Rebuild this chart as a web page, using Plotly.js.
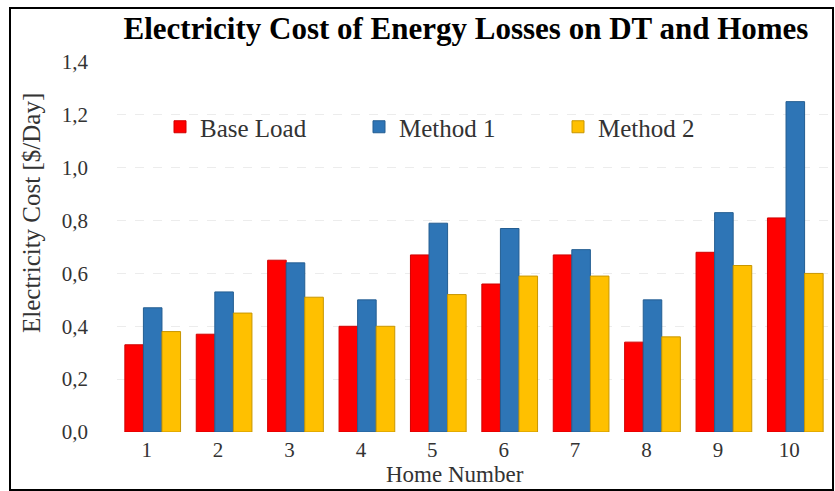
<!DOCTYPE html>
<html>
<head>
<meta charset="utf-8">
<script src="https://cdn.plot.ly/plotly-3.0.1.min.js"></script>
<style>html,body{margin:0;padding:0;background:#fff;}#chart{width:835px;height:491px;}</style>
</head>
<body>
<div id="chart"></div>
<script>
const homes = ['1','2','3','4','5','6','7','8','9','10'];
const baseLoad = [0.33, 0.37, 0.65, 0.40, 0.67, 0.56, 0.67, 0.34, 0.68, 0.81];
const method1  = [0.47, 0.53, 0.64, 0.50, 0.79, 0.77, 0.69, 0.50, 0.83, 1.25];
const method2  = [0.38, 0.45, 0.51, 0.40, 0.52, 0.59, 0.59, 0.36, 0.63, 0.60];
const seriesNames = ['Base Load', 'Method 1', 'Method 2'];
const tickVals = [0, 0.2, 0.4, 0.6, 0.8, 1.0, 1.2, 1.4];

const colors = ['#FF0000', '#2E75B6', '#FFC000'];
const lineColors = ['#D00000', '#245E92', '#C89600'];
const serif = '"Liberation Serif", "Times New Roman", serif';

const traces = [baseLoad, method1, method2].map((vals, i) => ({
  type: 'bar',
  name: seriesNames[i],
  x: homes,
  y: vals,
  marker: {color: colors[i], line: {color: lineColors[i], width: 1}},
  hoverinfo: 'skip'
}));

const L = 117, R = 4, T = 62, B = 59, W = 835, H = 491;
const pw = W - L - R, ph = H - T - B;
const px = v => (v - L) / pw;
const py = v => (H - B - v) / ph;

const layout = {
  width: W, height: H,
  margin: {l: L, r: R, t: T, b: B, pad: 0},
  paper_bgcolor: '#ffffff',
  plot_bgcolor: '#ffffff',
  separators: ',.',
  barmode: 'group',
  bargap: 0.22,
  bargroupgap: 0,
  showlegend: true,
  font: {family: serif, color: '#333333', size: 20},
  title: {
    text: '<b>Electricity Cost of Energy Losses on DT and Homes</b>',
    font: {family: serif, size: 31, color: '#000000'},
    x: px(466), xref: 'paper', xanchor: 'center',
    y: 1 - 28 / H, yanchor: 'middle'
  },
  xaxis: {
    type: 'category',
    showgrid: false,
    zeroline: false,
    showline: false,
    ticks: '',
    tickfont: {family: serif, size: 21, color: '#333333'},
    ticklabelstandoff: 3,
    ticklabelshift: -6
  },
  yaxis: {
    range: [0, 1.4],
    tickvals: tickVals,
    tickformat: '.1f',
    showgrid: true,
    gridcolor: '#ececec',
    griddash: 'dash',
    zeroline: false,
    showline: false,
    ticks: '',
    ticklabelstandoff: 28,
    tickfont: {family: serif, size: 21, color: '#333333'}
  },
  legend: {
    orientation: 'h',
    x: px(160), xanchor: 'left',
    y: py(127), yanchor: 'middle',
    entrywidth: 154, entrywidthmode: 'pixels',
    bgcolor: 'rgba(0,0,0,0)',
    font: {family: serif, size: 25, color: '#333333'},
    itemwidth: 30
  },
  annotations: [{
    text: 'Electricity Cost [$/Day]',
    textangle: -90,
    xref: 'paper', yref: 'paper',
    x: px(31), y: py(213),
    xanchor: 'center', yanchor: 'middle',
    showarrow: false,
    font: {family: serif, size: 25, color: '#333333'}
  }, {
    text: 'Home Number',
    xref: 'paper', yref: 'paper',
    x: px(455), y: py(474),
    xanchor: 'center', yanchor: 'middle',
    showarrow: false,
    font: {family: serif, size: 23, color: '#333333'}
  }],
  shapes: [{
    type: 'rect', xref: 'paper', yref: 'paper',
    x0: px(10), x1: px(833), y0: py(490), y1: py(8),
    line: {color: '#000000', width: 2}, fillcolor: 'rgba(0,0,0,0)',
    layer: 'above'
  }]
};

Plotly.newPlot('chart', traces, layout, {displayModeBar: false, staticPlot: true});
</script>
</body>
</html>
